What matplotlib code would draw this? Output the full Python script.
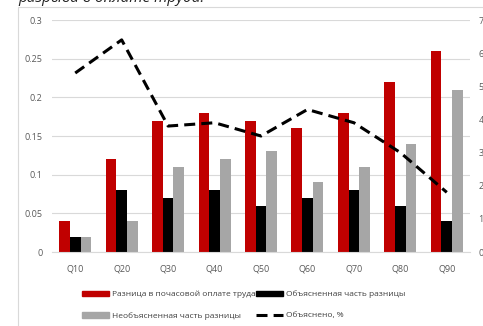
import numpy as np
import matplotlib
matplotlib.use('Agg')
import matplotlib.pyplot as plt
from matplotlib.patches import Rectangle, Patch
from matplotlib.lines import Line2D

# data
quantiles = ['Q10', 'Q20', 'Q30', 'Q40', 'Q50', 'Q60', 'Q70', 'Q80', 'Q90']
gap_total = [0.04, 0.12, 0.17, 0.18, 0.17, 0.16, 0.18, 0.22, 0.26]
gap_explained = [0.02, 0.08, 0.07, 0.08, 0.06, 0.07, 0.08, 0.06, 0.04]
gap_unexplained = [0.02, 0.04, 0.11, 0.12, 0.13, 0.09, 0.11, 0.14, 0.21]
explained_pct = [54, 64, 38, 39, 35, 43, 39, 30, 18]

plt.rc('font', family=['Open Sans', 'DejaVu Sans'])

fig = plt.figure(figsize=(4.83, 3.26), dpi=100)

# chart frame (cut by the picture edge on right and bottom)
fig.patches.append(Rectangle((18/483, -0.1), 1.0, 1 - 7/326 + 0.1, transform=fig.transFigure,
                             fill=False, edgecolor='#d9d9d9', linewidth=0.8))

# clipped caption at the very top
fig.text(18/483, 1 - 2.5/326, 'разрыва в оплате труда.', fontsize=11, style='italic',
         color='#222222', ha='left', va='baseline')

ax = fig.add_axes([52/483, 1 - 252/326, (470 - 52)/483, (252 - 20)/326])
x = np.arange(len(quantiles))
w = 0.23
ax.bar(x - w, gap_total, w, color='#c00000', zorder=2)
ax.bar(x, gap_explained, w, color='#000000', zorder=2)
ax.bar(x + w, gap_unexplained, w, color='#a6a6a6', zorder=2)

ax.set_xlim(-0.5, len(quantiles) - 0.5)
ax.set_ylim(0, 0.3)
ax.set_yticks([0, 0.05, 0.1, 0.15, 0.2, 0.25, 0.3])
ax.set_yticklabels(['0', '0.05', '0.1', '0.15', '0.2', '0.25', '0.3'])
ax.set_xticks(x)
ax.set_xticklabels(quantiles)
ax.grid(axis='y', color='#d9d9d9', linewidth=0.8, zorder=0)
for s in ['top', 'right', 'left']:
    ax.spines[s].set_visible(False)
ax.spines['bottom'].set_color('#d9d9d9')
ax.tick_params(axis='both', length=0, labelsize=6.5, colors='#595959')
ax.tick_params(axis='x', pad=9)
ax.tick_params(axis='y', pad=7)

ax2 = ax.twinx()
ax2.plot(x, explained_pct, color='black', linewidth=2.2, dashes=(3.6, 2.0), zorder=3)
ax2.set_ylim(0, 70)
ax2.set_yticks(np.arange(0, 71, 10))
ax2.set_yticklabels(['%d%%' % v for v in range(0, 71, 10)])
for s in ax2.spines.values():
    s.set_visible(False)
ax2.tick_params(axis='y', length=0, labelsize=6.5, colors='#595959', pad=6)

handles = [Patch(color='#c00000'), Patch(color='#a6a6a6'),
           Patch(color='#000000'), Line2D([], [], color='black', linewidth=2.2, dashes=(3.6, 2.0))]
labels = ['Разница в почасовой оплате труда', 'Необъясненная часть разницы',
          'Объясненная часть разницы', 'Объяснено, %']
fig.legend(handles, labels, ncol=2, loc='center left', bbox_to_anchor=(74/483, 1 - 305/326),
           frameon=False, fontsize=6, handlelength=3.3, handleheight=0.7,
           handletextpad=0.3, columnspacing=0.1, labelspacing=1.6, labelcolor='#404040')

fig.savefig('out.png', dpi=100)
